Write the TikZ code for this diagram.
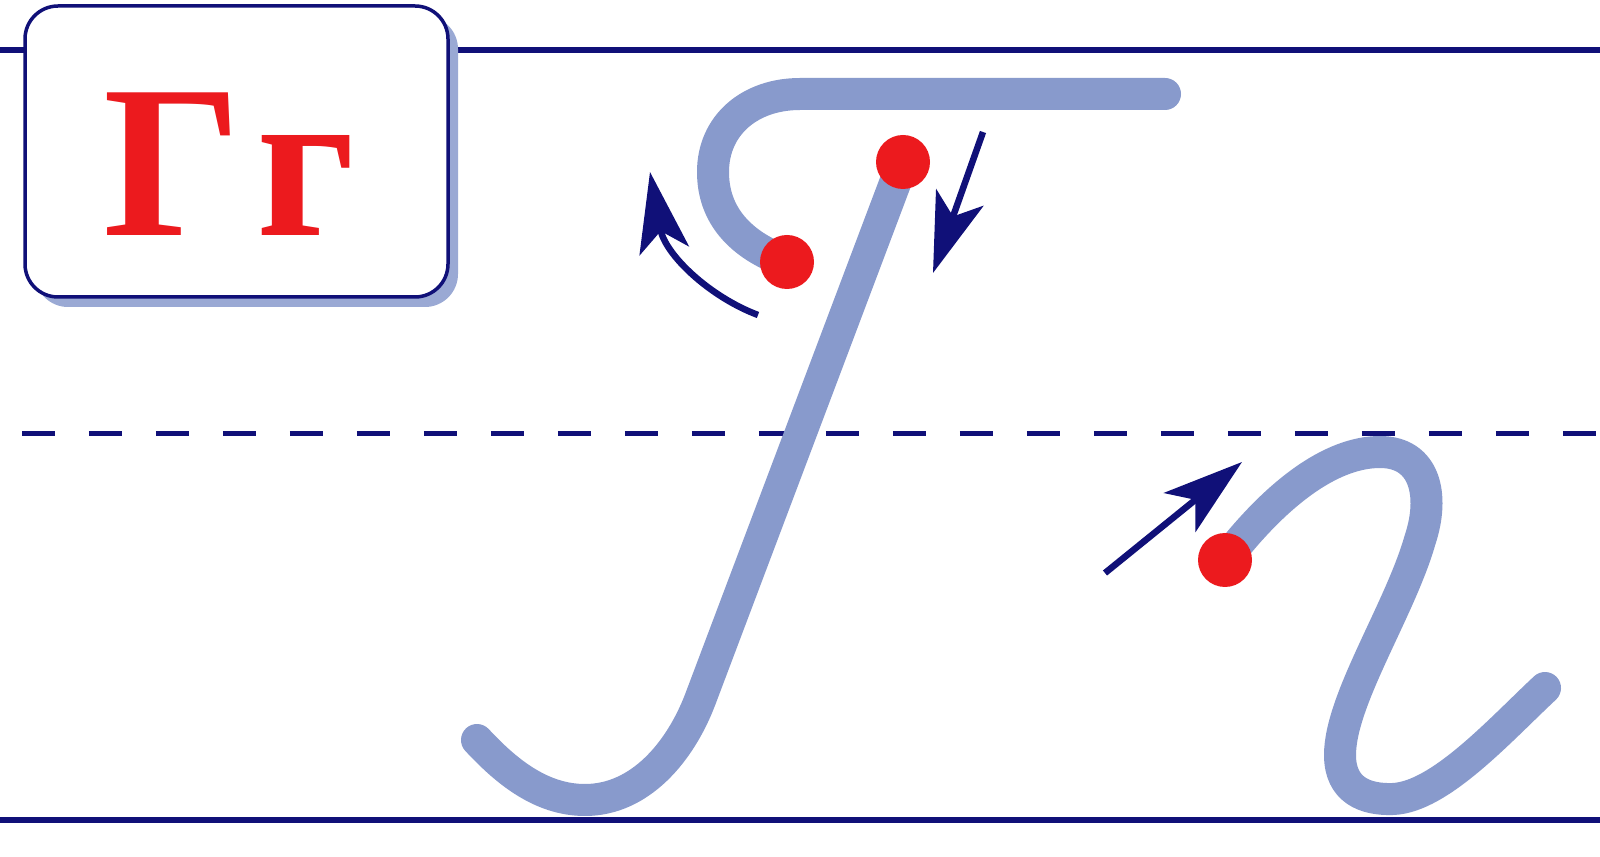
\documentclass[tikz,border=0pt]{standalone}
\usepackage{fontspec}
\usetikzlibrary{arrows.meta}
\newfontfamily\letterfont{Liberation Serif}
\definecolor{linenavy}{RGB}{16,16,120}
\definecolor{strokeblue}{RGB}{136,154,204}
\definecolor{dotred}{RGB}{236,26,30}

\begin{document}
\begin{tikzpicture}[
    x=0.1mm, y=-0.1mm,
    ruling/.style={line width=0.6mm, linenavy},
    midrule/.style={line width=0.5mm, linenavy, dash pattern=on 3.3mm off 3.4mm},
    stroke/.style={line width=3.2mm, strokeblue, line cap=round, line join=round},
    dot/.style={circle, fill=dotred, minimum size=5.4mm, inner sep=0pt},
    arrow/.style={-{Stealth[length=8mm, width=5mm, inset=2mm]}, line width=0.65mm, linenavy},
    card/.style={draw=linenavy, line width=0.35mm, fill=white, rounded corners=3.3mm},
    letter/.style={font=\letterfont\bfseries\fontsize{62}{66}\selectfont, text=dotred, anchor=base, inner sep=0pt}
]
\useasboundingbox[fill=white] (0,0) rectangle (1600,857);

% ruling
\draw[ruling] (0,50) -- (1600,50);
\draw[midrule] (22,434) -- (1600,434);
\draw[ruling] (0,820) -- (1600,820);

% card with the printed letters
\fill[strokeblue!85, rounded corners=3.3mm] (35,16) rectangle (458,307);
\draw[card] (25,6) rectangle (448,297);
\node[letter] (capital) at (173,236) {Г};
\node[letter] (small) at (306,236) {г};

% cursive capital
\draw[stroke] (1165,94) -- (800,94) .. controls (750,94) and (713,125) .. (713,172)
    .. controls (713,215) and (740,245) .. (787,262);
\draw[stroke] (903,162) -- (700,700) .. controls (680,752) and (640,800) .. (585,800)
    .. controls (540,800) and (505,770) .. (477,740);

% cursive small
\draw[stroke] (1225,560) .. controls (1275,495) and (1330,452) .. (1380,452)
    .. controls (1425,452) and (1435,495) .. (1420,540)
    .. controls (1400,610) and (1340,700) .. (1340,755)
    .. controls (1340,790) and (1365,800) .. (1393,799)
    .. controls (1440,797) and (1500,730) .. (1545,688);

% start points
\node[dot] (hookend) at (787,262) {};
\node[dot] (stemtop) at (903,162) {};
\node[dot] (smallstart) at (1225,560) {};

% directions
\draw[arrow] (758,315) .. controls (710,297) and (665,255) .. (650,172);
\draw[arrow] (983,132) -- (933,273);
\draw[arrow] (1105,573) -- (1242,462);

\end{tikzpicture}
\end{document}
